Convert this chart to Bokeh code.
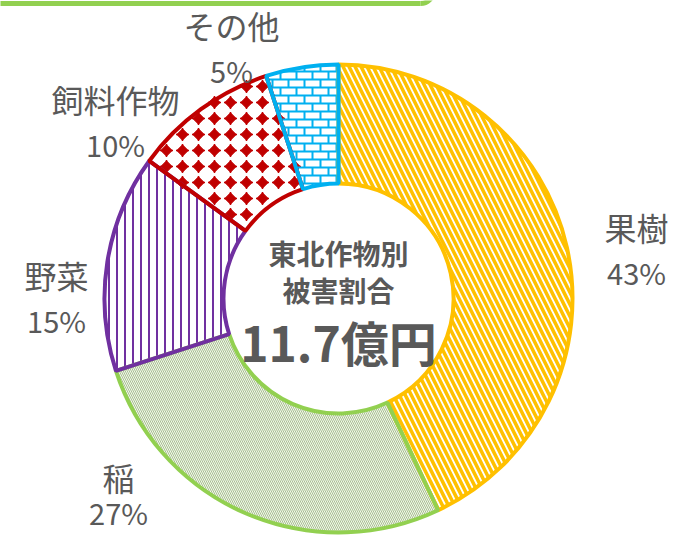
import math
import numpy as np
from bokeh.plotting import figure
from bokeh.models import ColumnDataSource, Range1d
from bokeh.core.properties import value
from bokeh.embed import file_html
from bokeh.resources import INLINE

# ---- data ----
categories = ["果樹", "稲", "野菜", "飼料作物", "その他"]
shares = [43, 27, 15, 10, 5]
center_title = ["東北作物別", "被害割合"]
center_total = "11.7億円"

# ---- styles ----
line_colors = ["#FFC000", "#92D050", "#7030A0", "#C00000", "#00B0F0"]
hatch_colors = ["#FFC000", "#A9BF94", "#7030A0", "#C00000", "#00B0F0"]
fill_colors = ["#FFFFFF", "#F2F8EA", "#FFFFFF", "#FFFFFF", "#FFFFFF"]
hatch_patterns = ["\\", "\\", "|", " ", " "]
hatch_scales = [12, 4, 8, 16, 16]
hatch_weights = [3.5, 1, 2, 1, 2]
label_pos = [(298, 72), (-220, -178), (-282, 24), (-223, 200), (-107, 274)]
pct_shift = [0, 10, 0, 0, 0]
label_gap = 45
text_color = "#595959"
FONT = "Noto Sans CJK JP"

R_OUT, R_IN = 234, 115

total = sum(shares)
starts, ends, acc = [], [], 0.0
for s in shares:
    starts.append(math.radians(90 - acc / total * 360))
    acc += s
    ends.append(math.radians(90 - acc / total * 360))

src = ColumnDataSource(dict(
    cat=categories, start=starts, end=ends, lc=line_colors, hc=hatch_colors,
    fc=fill_colors, hp=hatch_patterns, hs=hatch_scales, hw=hatch_weights,
))


def inside(x, y, a_start, a_end, rin, rout):
    """Point(s) inside the clockwise annular wedge from a_start to a_end."""
    r = np.hypot(x, y)
    th = np.arctan2(y, x)
    span = (a_start - a_end) % (2 * math.pi)
    d = (th - a_end) % (2 * math.pi)
    return (r >= rin) & (r <= rout) & (d <= span)


def clip_runs(t, mask):
    """Return (t0, t1) runs where mask is True."""
    runs, on, t0, prev = [], False, None, None
    for ti, m in zip(t, mask):
        if m and not on:
            on, t0 = True, ti
        elif not m and on:
            on = False
            runs.append((t0, prev))
        prev = ti
    if on:
        runs.append((t0, prev))
    return runs


W, H = 674, 536
CX, CY = 338, 298
p = figure(width=W, height=H, output_backend="svg", toolbar_location=None,
           x_range=Range1d(-CX, W - CX), y_range=Range1d(CY - H, CY),
           min_border=0, outline_line_color=None, background_fill_color="white")
p.axis.visible = False
p.grid.visible = False

# decorative frame edge at the top (partially visible box)
p.line(x=[-CX - 5, 82], y=[295, 295], line_color="#92D050", line_width=5)
p.arc(x=[82], y=[308], radius=13, start_angle=-math.pi / 2, end_angle=0,
      line_color="#92D050", line_width=5)

# fills + built-in hatches
p.annular_wedge(x=0, y=0, inner_radius=R_IN, outer_radius=R_OUT,
                start_angle="start", end_angle="end", direction="clock",
                fill_color="fc", line_color=None,
                hatch_pattern="hp", hatch_color="hc", hatch_scale="hs",
                hatch_weight="hw", source=src)

# 飼料作物: diamond grid pattern
i_feed = categories.index("飼料作物")
gx, gy = np.meshgrid(np.arange(-CX, W - CX, 16) + 6, np.arange(CY - H, CY, 16) + 2)
gx, gy = gx.ravel(), gy.ravel()
m = inside(gx, gy, starts[i_feed], ends[i_feed], R_IN + 2, R_OUT - 2)
p.scatter(x=gx[m], y=gy[m], marker="square", angle=math.pi / 4, size=8,
          fill_color=hatch_colors[i_feed], line_color=hatch_colors[i_feed], line_width=1)
p.scatter(x=gx[m], y=gy[m], marker="cross", size=13,
          line_color=hatch_colors[i_feed], line_width=1.5)

# その他: brick pattern
i_oth = categories.index("その他")
bx, by = [], []
tx = np.arange(-R_OUT - 2, R_OUT + 2, 0.5)
rows = np.arange(CY - H, CY, 8) + 1
for k, yrow in enumerate(rows):
    mk = inside(tx, np.full_like(tx, yrow), starts[i_oth], ends[i_oth], R_IN, R_OUT)
    for a, b in clip_runs(tx, mk):
        bx.append([a, b]); by.append([yrow, yrow])
    ty = np.arange(yrow, yrow + 8.01, 0.5)
    off = 0 if k % 2 == 0 else 8
    for xv in np.arange(-CX, W - CX, 16) + off:
        mk = inside(np.full_like(ty, xv), ty, starts[i_oth], ends[i_oth], R_IN, R_OUT)
        for a, b in clip_runs(ty, mk):
            bx.append([xv, xv]); by.append([a, b])
p.multi_line(xs=bx, ys=by, line_color=hatch_colors[i_oth], line_width=2)

# outlines on top
p.annular_wedge(x=0, y=0, inner_radius=R_IN, outer_radius=R_OUT,
                start_angle="start", end_angle="end", direction="clock",
                fill_color=None, line_color="lc", line_width=4, source=src)

lx = [pos[0] for pos in label_pos]
ly = [pos[1] for pos in label_pos]
p.text(x=lx, y=ly, text=categories, text_font=value(FONT), text_font_size="32px",
       text_color=text_color, text_align="center", text_baseline="middle")
p.text(x=lx, y=[v - label_gap + s for v, s in zip(ly, pct_shift)],
       text=[f"{s}%" for s in shares],
       text_font=value(FONT), text_font_size="29px",
       text_color=text_color, text_align="center", text_baseline="middle")

p.text(x=[0, 0], y=[46, 9], text=center_title, text_font=value(FONT),
       text_font_size="28px", text_font_style="bold", text_color=text_color,
       text_align="center", text_baseline="middle")
p.text(x=[0], y=[-42], text=[center_total], text_font=value(FONT),
       text_font_size="48px", text_font_style="bold", text_color=text_color,
       text_align="center", text_baseline="middle")

open("out.html", "w").write(file_html(p, INLINE))
